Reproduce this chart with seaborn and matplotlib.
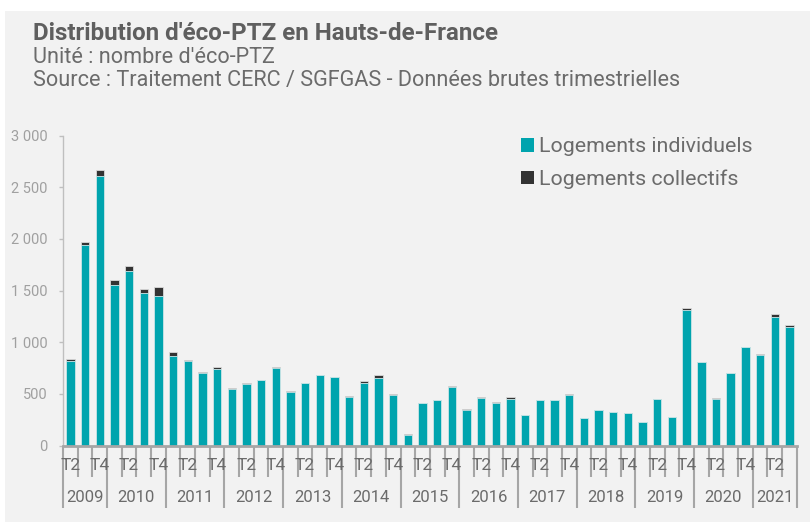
import matplotlib
matplotlib.use("Agg")
import matplotlib.pyplot as plt
import matplotlib.patches as mpatches
import matplotlib.transforms as mtransforms
import seaborn as sns
import pandas as pd

# ---- data ----
years = ["2009", "2010", "2011", "2012", "2013", "2014", "2015", "2016",
         "2017", "2018", "2019", "2020", "2021"]
quarters_per_year = [3, 4, 4, 4, 4, 4, 4, 4, 4, 4, 4, 4, 3]
first_quarter = [2, 1, 1, 1, 1, 1, 1, 1, 1, 1, 1, 1, 1]
individuels = [818, 1943, 2612,
               1552, 1688, 1474, 1445,
               863, 818, 698, 740,
               543, 595, 630, 747,
               517, 603, 678, 661,
               465, 607, 652, 487,
               106, 413, 439, 565,
               342, 461, 407, 455,
               294, 442, 436, 487,
               265, 342, 323, 313,
               223, 452, 274, 1310,
               804, 452, 700, 949,
               875, 1246, 1146]
collectifs = [16, 29, 52,
              55, 48, 39, 91,
              39, 10, 16, 17,
              16, 13, 7, 10,
              7, 3, 3, 7,
              13, 16, 26, 10,
              2, 3, 3, 9,
              10, 7, 13, 13,
              3, 3, 3, 10,
              3, 3, 3, 3,
              3, 3, 3, 26,
              3, 9, 3, 9,
              12, 29, 25]
yticks = [0, 500, 1000, 1500, 2000, 2500, 3000]

# ---- build table ----
keys, qlabels, yrs = [], [], []
for y, n, f in zip(years, quarters_per_year, first_quarter):
    for q in range(f, f + n):
        keys.append(f"{y}-T{q}")
        qlabels.append(f"T{q}")
        yrs.append(y)
df = pd.DataFrame({"key": keys, "ind": individuels, "col": collectifs})
df["total"] = df["ind"] + df["col"]

TEAL = "#00A4AE"
DARK = "#333333"
BG = "#F2F2F2"

plt.rcParams["font.family"] = ["Roboto", "DejaVu Sans"]
fig = plt.figure(figsize=(8.1, 5.24), dpi=100, facecolor="white")
fig.patches.append(mpatches.Rectangle((5 / 810, 2 / 524), 1, 1 - 13 / 524,
                                      transform=fig.transFigure, facecolor=BG,
                                      edgecolor="none", zorder=-10))
ax = fig.add_axes([63 / 810, 1 - 445.5 / 524, (796.7 - 63) / 810, (445.5 - 135.7) / 524])
ax.set_facecolor("none")

sns.barplot(data=df, x="key", y="total", color=DARK, width=0.57, ax=ax,
            edgecolor="#d9d9d9", linewidth=0.6, saturation=1, errorbar=None)
sns.barplot(data=df, x="key", y="ind", color=TEAL, width=0.57, ax=ax,
            edgecolor="#cfe8ea", linewidth=0.6, saturation=1, errorbar=None)

n = len(df)
ax.set_xlim(-0.5, n - 0.5)
ax.set_ylim(0, 3000)
ax.set_xlabel("")
ax.set_ylabel("")
ax.set_yticks(yticks)
ax.set_yticklabels([f"{v:,}".replace(",", " ") for v in yticks])
ax.tick_params(axis="y", length=3, width=1, color="#BFBFBF", pad=8,
               labelsize=10.5, labelcolor="#A0A0A0")
ax.set_xticks([])
for s in ["top", "right"]:
    ax.spines[s].set_visible(False)
ax.spines["left"].set_color("#BFBFBF")
ax.spines["left"].set_linewidth(1)
ax.spines["bottom"].set_color("#A6A6A6")
ax.spines["bottom"].set_linewidth(2)

# ---- two-level category axis ----
trans = mtransforms.blended_transform_factory(ax.transData, ax.transAxes)
px = 1 / (445.5 - 135.7)  # one pixel in axes fraction
short_y = -31 * px
long_y = -62 * px
boundaries = [0]
for nq in quarters_per_year:
    boundaries.append(boundaries[-1] + nq)
for i in range(n + 1):
    yb = long_y if i in boundaries else short_y
    ax.plot([i - 0.5, i - 0.5], [0, yb], transform=trans, color="#A6A6A6",
            lw=1.5, clip_on=False, solid_capstyle="butt")
for i, lab in enumerate(qlabels):
    if i % 2 == 0:
        ax.text(i, -20 * px, lab, transform=trans, ha="center", va="center",
                fontsize=12.5, color="#6B6B6B")
for k, y in enumerate(years):
    c = (boundaries[k] + boundaries[k + 1]) / 2 - 0.5
    ax.text(c, -52.5 * px, y, transform=trans, ha="center", va="center",
            fontsize=12, color="#6B6B6B")

# ---- legend ----
handles = [mpatches.Patch(facecolor=TEAL, edgecolor="none", label="Logements individuels"),
           mpatches.Patch(facecolor=DARK, edgecolor="none", label="Logements collectifs")]
fig.legend(handles=handles, loc="upper left", bbox_to_anchor=(502 / 810, 1 - 118 / 524),
           frameon=False, fontsize=15.4, handlelength=0.6, handleheight=0.6,
           handletextpad=0.25, labelspacing=0.62, labelcolor="#6B6B6B")

# ---- titles ----
fig.text(33 / 810, 1 - 40 / 524, "Distribution d'éco-PTZ en Hauts-de-France",
         fontsize=17.4, fontweight="bold", color="#5F5F5F", ha="left", va="baseline")
fig.text(33 / 810, 1 - 63 / 524, "Unité : nombre d'éco-PTZ",
         fontsize=15.6, color="#6B6B6B", ha="left", va="baseline")
fig.text(33 / 810, 1 - 86 / 524,
         "Source : Traitement CERC / SGFGAS - Données brutes trimestrielles",
         fontsize=15.6, color="#6B6B6B", ha="left", va="baseline")

fig.savefig("out.png", dpi=100, facecolor="white")
